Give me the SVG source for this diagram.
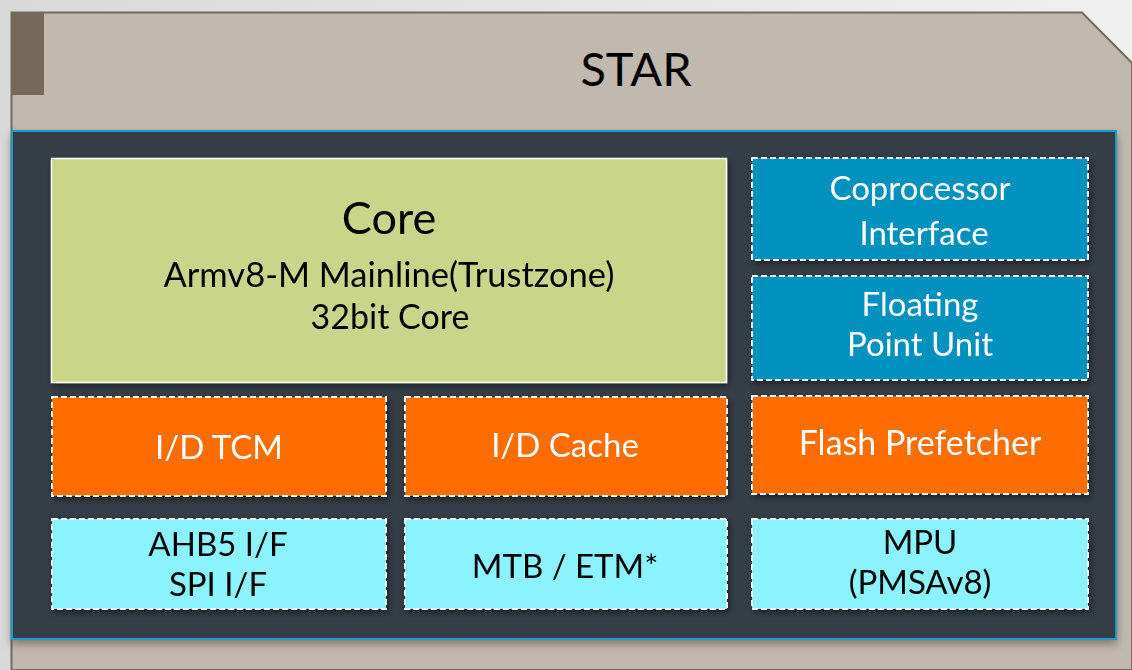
<svg xmlns="http://www.w3.org/2000/svg" width="1132" height="670" viewBox="0 0 1132 670">
<defs>
<linearGradient id="bg" x1="0" y1="0" x2="1" y2="0">
<stop offset="0" stop-color="#d9d9d9"/><stop offset="1" stop-color="#f0f0f0"/>
</linearGradient>
<filter id="sh" x="-5%" y="-5%" width="110%" height="115%">
<feDropShadow dx="2" dy="3" stdDeviation="3" flood-color="#000" flood-opacity="0.45"/>
</filter>
<filter id="sh2" x="-5%" y="-5%" width="110%" height="115%">
<feDropShadow dx="0" dy="4" stdDeviation="4" flood-color="#000" flood-opacity="0.35"/>
</filter>
</defs>
<style>
.t{font-family:Lato,"Open Sans",sans-serif;text-anchor:middle;font-size:33px;}
.w{fill:#ffffff;}
.k{fill:#000000;}
.dash{stroke:#ffffff;stroke-width:2;stroke-dasharray:6 3;}
.blue{fill:#0391bf;}
.org{fill:#ff6d00;}
.cyan{fill:#8af3fd;}
</style>
<rect x="0" y="0" width="1132" height="670" fill="url(#bg)"/>
<g id="star">
<path d="M11.5 12.5 H1082 L1132 63 V670 H11.5 Z" fill="#c1b8af" stroke="#76695c" stroke-width="2"/>
<rect x="12" y="13" width="32" height="82" fill="#76695c"/>
<text class="t k" x="636" y="86" style="font-size:47px">STAR</text>
</g>
<g id="container">
<rect x="12" y="131" width="1104" height="508" fill="#343d47" stroke="#1a9bc9" stroke-width="2" filter="url(#sh2)"/>
</g>
<g id="core" filter="url(#sh)">
<rect x="51.5" y="158.5" width="675" height="224" fill="#c9d68a" stroke="#ffffff" stroke-width="1.5"/>
<text class="t k" x="389" y="234" style="font-size:45px">Core</text>
<text class="t k" x="389" y="287" style="font-size:34.5px">Armv8-M Mainline(Trustzone)</text>
<text class="t k" x="390" y="329" style="font-size:34px">32bit Core</text>
</g>
<g id="coprocessor" filter="url(#sh)">
<rect class="blue dash" x="752" y="158" width="336" height="102"/>
<text class="t w" x="920" y="200">Coprocessor</text>
<text class="t w" x="924" y="245">Interface</text>
</g>
<g id="fpu" filter="url(#sh)">
<rect class="blue dash" x="752" y="276" width="336" height="104"/>
<text class="t w" x="920" y="316">Floating</text>
<text class="t w" x="920" y="356">Point Unit</text>
</g>
<g id="tcm" filter="url(#sh)">
<rect class="org dash" x="52" y="397" width="334" height="99"/>
<text class="t w" x="219" y="459">I/D TCM</text>
</g>
<g id="cache" filter="url(#sh)">
<rect class="org dash" x="405" y="397" width="322" height="99"/>
<text class="t w" x="565" y="457">I/D Cache</text>
</g>
<g id="prefetcher" filter="url(#sh)">
<rect class="org dash" x="752" y="396" width="336" height="98"/>
<text class="t w" x="920" y="455" style="font-size:34px">Flash Prefetcher</text>
</g>
<g id="ahb" filter="url(#sh)">
<rect class="cyan dash" x="52" y="519" width="334" height="90"/>
<text class="t k" x="218" y="556">AHB5 I/F</text>
<text class="t k" x="218" y="596">SPI I/F</text>
</g>
<g id="mtb" filter="url(#sh)">
<rect class="cyan dash" x="405" y="519" width="322" height="90"/>
<text class="t k" x="565" y="578">MTB / ETM*</text>
</g>
<g id="mpu" filter="url(#sh)">
<rect class="cyan dash" x="752" y="519" width="336" height="90"/>
<text class="t k" x="920" y="554">MPU</text>
<text class="t k" x="920" y="594">(PMSAv8)</text>
</g>
<g id="connectors"/>
</svg>
